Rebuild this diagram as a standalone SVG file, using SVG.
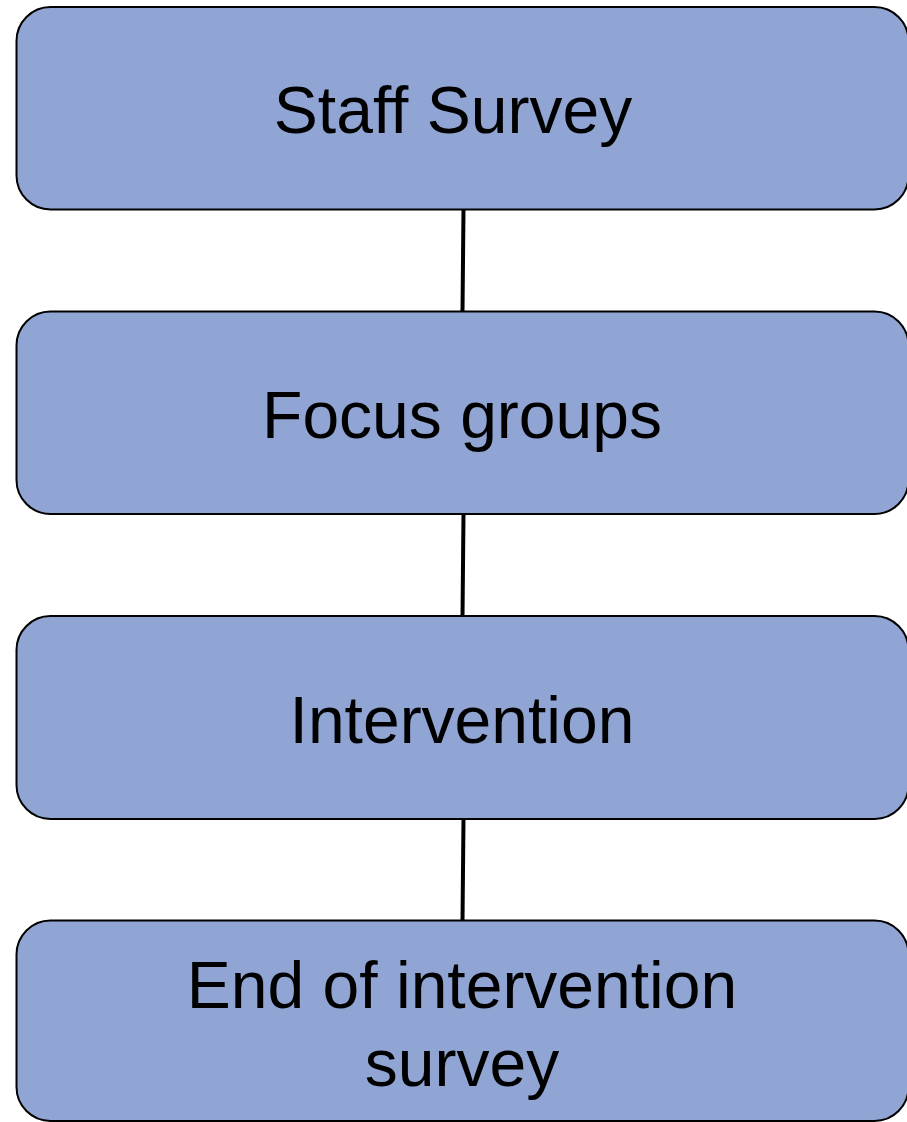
<svg xmlns="http://www.w3.org/2000/svg" width="907" height="1122" viewBox="0 0 907 1122">
  <style>
    .box { fill: #90A5D3; stroke: #000; stroke-width: 2; }
    .label { font-family: "Liberation Sans", Arial, sans-serif; font-size: 66px; fill: #000; text-anchor: middle; }
    .link { stroke: #000; stroke-width: 4; fill: none; }
  </style>
  <rect width="907" height="1122" fill="#fff"/>
  <g id="connectors">
    <line class="link" x1="463.5" y1="209" x2="462.5" y2="312"/>
    <line class="link" x1="463.5" y1="514" x2="462.5" y2="617"/>
    <line class="link" x1="463.5" y1="819" x2="462.5" y2="921"/>
  </g>
  <g id="staff-survey">
    <rect class="box" x="16.5" y="7" width="892" height="202.5" rx="34"/>
    <text class="label" x="453" y="133">Staff Survey</text>
  </g>
  <g id="focus-groups">
    <rect class="box" x="16.5" y="311.5" width="892" height="202.5" rx="34"/>
    <text class="label" x="462" y="438">Focus groups</text>
  </g>
  <g id="intervention">
    <rect class="box" x="16.5" y="616" width="892" height="203" rx="34"/>
    <text class="label" x="462" y="743">Intervention</text>
  </g>
  <g id="end-survey">
    <rect class="box" x="16.5" y="920.5" width="892" height="200.5" rx="34"/>
    <text class="label" x="462" y="1008">End of intervention</text>
    <text class="label" x="462" y="1086">survey</text>
  </g>
</svg>
